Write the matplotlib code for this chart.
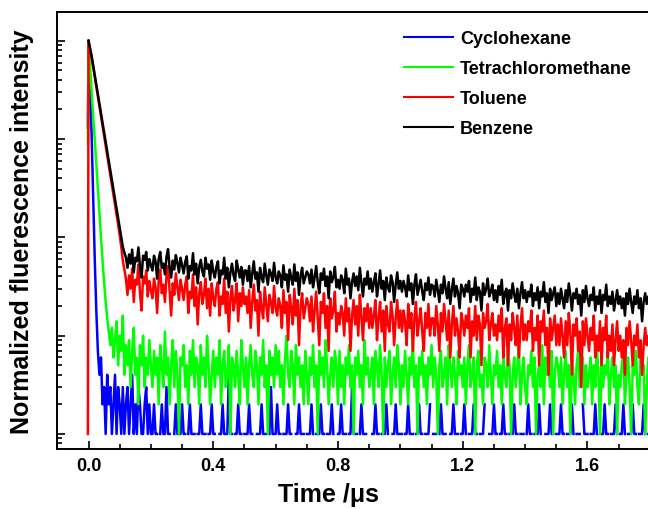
import numpy as np
import matplotlib
matplotlib.use("Agg")
import matplotlib.pyplot as plt
from matplotlib.ticker import MultipleLocator, LogLocator, NullFormatter

plt.rcParams['font.family'] = ['Liberation Sans', 'DejaVu Sans']
plt.rcParams['font.weight'] = 'bold'

# time grid of the decay curves (us): one sample every 5 ns from t = 0, plus a pre-trigger sample
t_pre = -0.002
t_step = 0.005
n_samples = 361
peak_counts = 10000.0

labels = ["Cyclohexane", "Tetrachloromethane", "Toluene", "Benzene"]
colors = ["#0000ff", "#00ff00", "#ff0000", "#000000"]

# counts (peak = 10000); 0 counts are not drawn on the log axis
pre_counts = [1300, 900, 1, None]

cyclohexane = [
    # 0.000 - 0.120
    10000, 3300, 1100, 260, 60, 18, 7, 4, 6, 2, 3, 1, 4, 2, 3, 1, 2, 4, 1, 3, 2, 1, 3, 1, 2,
    # 0.125 - 0.200
    3, 1, 2, 4, 1, 2, 1, 3, 2, 1, 1, 2, 3, 1, 2, 1,
    # 0.205 - 1.800, 20 samples per row
    1, 2, 1, 1, 0, 1, 2, 1, 1, 3, 1, 1, 0, 0, 1, 2, 1, 1, 1, 2,
    1, 1, 0, 1, 2, 1, 1, 1, 0, 1, 1, 2, 1, 1, 1, 0, 1, 1, 2, 1,
    1, 0, 0, 1, 1, 2, 1, 1, 1, 4, 1, 1, 0, 1, 1, 2, 1, 1, 0, 1,
    1, 1, 2, 1, 1, 0, 0, 1, 1, 1, 2, 1, 1, 1, 0, 1, 3, 1, 1, 1,
    2, 1, 1, 0, 1, 1, 1, 2, 1, 1, 0, 0, 1, 1, 2, 1, 1, 1, 0, 1,
    1, 1, 2, 1, 0, 1, 1, 1, 2, 1, 1, 0, 1, 1, 1, 2, 1, 0, 0, 1,
    1, 2, 1, 1, 1, 0, 1, 1, 3, 1, 1, 1, 0, 1, 2, 1, 1, 1, 0, 1,
    0, 1, 1, 2, 1, 1, 0, 1, 1, 1, 2, 1, 0, 0, 1, 1, 2, 1, 1, 1,
    1, 0, 1, 1, 2, 1, 1, 1, 0, 1, 1, 2, 1, 1, 0, 1, 1, 1, 2, 0,
    1, 1, 1, 0, 1, 2, 1, 1, 1, 0, 0, 1, 1, 2, 1, 1, 1, 0, 1, 1,
    2, 1, 0, 1, 1, 1, 2, 1, 1, 0, 1, 1, 1, 2, 0, 0, 1, 1, 1, 2,
    1, 1, 0, 1, 1, 2, 1, 1, 0, 1, 1, 1, 2, 1, 1, 0, 1, 1, 1, 0,
    1, 2, 1, 1, 0, 1, 1, 1, 2, 1, 0, 0, 1, 1, 1, 2, 1, 1, 0, 1,
    1, 1, 2, 1, 1, 0, 1, 1, 1, 2, 1, 0, 1, 1, 1, 0, 2, 1, 1, 1,
    0, 1, 1, 1, 2, 1, 0, 1, 1, 1, 2, 1, 1, 0, 1, 1, 1, 2, 1, 0,
    1, 1, 2, 1, 0, 1, 1, 1, 2, 1, 1, 0, 1, 1, 1, 2, 1, 0, 1, 1,
]

tetrachloromethane = [
    10000, 5500, 3000, 1700, 1000, 560, 320, 180, 100, 58, 35, 22, 15, 11, 8, 12, 6, 9, 14, 5, 10, 7, 16, 4, 8,
    5, 9, 3, 7, 12, 4, 6, 2, 8, 5, 10, 3, 6, 4, 9, 5,
    3, 7, 4, 6, 2, 8, 5, 3, 11, 4, 6, 2, 5, 9, 3, 7, 4, 1, 6, 5,
    8, 3, 5, 2, 7, 4, 9, 3, 6, 5, 2, 8, 4, 6, 3, 10, 5, 2, 4, 7,
    3, 6, 4, 9, 2, 5, 7, 3, 4, 8, 1, 6, 5, 3, 7, 4, 2, 9, 5, 3,
    6, 2, 5, 8, 4, 3, 7, 5, 2, 6, 4, 9, 3, 5, 1, 7, 4, 6, 3, 8,
    4, 7, 3, 5, 2, 6, 10, 4, 3, 7, 5, 2, 8, 4, 6, 3, 5, 2, 7, 4,
    2, 6, 4, 8, 3, 5, 1, 7, 4, 6, 3, 9, 5, 2, 4, 6, 3, 7, 5, 2,
    7, 3, 5, 2, 6, 4, 8, 3, 5, 1, 6, 4, 7, 3, 5, 2, 9, 4, 6, 3,
    4, 6, 2, 7, 5, 3, 8, 4, 1, 6, 3, 5, 7, 2, 4, 6, 3, 8, 5, 2,
    5, 3, 7, 4, 2, 6, 4, 9, 3, 5, 1, 6, 4, 7, 3, 5, 2, 6, 4, 8,
    3, 6, 4, 1, 5, 7, 3, 4, 6, 2, 8, 5, 3, 6, 4, 2, 7, 4, 5, 3,
    6, 2, 5, 8, 3, 4, 6, 1, 5, 7, 3, 4, 2, 6, 5, 3, 8, 4, 2, 5,
    4, 7, 3, 5, 2, 6, 4, 3, 7, 5, 1, 4, 6, 3, 5, 8, 2, 4, 6, 3,
    2, 5, 4, 7, 3, 6, 1, 4, 5, 3, 8, 2, 6, 4, 5, 3, 7, 1, 4, 6,
    5, 3, 6, 2, 4, 7, 3, 5, 1, 6, 4, 2, 5, 7, 3, 4, 6, 2, 5, 3,
    4, 6, 2, 5, 3, 8, 4, 1, 6, 3, 5, 4, 7, 2, 4, 6, 3, 5, 1, 4,
    3, 5, 7, 2, 4, 6, 3, 1, 5, 4, 7, 3, 2, 6, 4, 5, 1, 3, 6, 4,
]

toluene = [
    10000, 8200, 6800, 5400, 4300, 3400, 2700, 2150, 1700, 1350, 1080, 860, 680, 540, 430, 340, 270, 215, 170, 135, 105, 80, 58, 47, 38,
    26, 41, 30, 48, 22, 37, 33, 53, 27, 18, 40, 34, 46, 25, 36, 29,
    24, 38, 31, 17, 36, 47, 27, 33, 22, 40, 51, 29, 16, 34, 26, 43, 31, 23, 37, 30,
    23, 33, 40, 17, 28, 24, 42, 20, 31, 13, 27, 35, 21, 26, 38, 19, 30, 16, 34, 24,
    20, 30, 35, 16, 25, 21, 38, 17, 28, 11, 24, 32, 18, 23, 34, 14, 27, 20, 31, 21,
    25, 17, 29, 12, 22, 33, 18, 23, 10, 28, 19, 15, 31, 21, 14, 26, 22, 17, 32, 19,
    16, 24, 20, 12, 29, 17, 22, 9, 26, 19, 13, 30, 16, 23, 8, 20, 27, 15, 19, 24,
    21, 14, 25, 11, 18, 28, 15, 8, 22, 17, 27, 12, 20, 7, 24, 15, 18, 28, 11, 17,
    13, 20, 17, 10, 24, 14, 19, 7, 16, 23, 13, 20, 10, 26, 16, 9, 19, 14, 21, 12,
    19, 12, 16, 23, 9, 15, 22, 11, 18, 7, 20, 13, 11, 22, 16, 8, 15, 23, 12, 18,
    11, 18, 14, 8, 21, 12, 17, 7, 15, 22, 10, 14, 19, 11, 7, 17, 12, 21, 10, 15,
    15, 10, 20, 13, 7, 17, 11, 21, 14, 9, 18, 6, 13, 20, 10, 15, 11, 6, 17, 14,
    10, 16, 12, 19, 6, 14, 10, 20, 9, 16, 13, 5, 17, 12, 14, 21, 9, 13, 17, 10,
    13, 9, 16, 11, 19, 6, 12, 15, 5, 13, 9, 17, 12, 8, 16, 6, 12, 19, 9, 13,
    9, 14, 11, 18, 7, 12, 9, 16, 5, 14, 11, 18, 8, 12, 4, 15, 9, 12, 16, 8,
    13, 8, 15, 10, 6, 14, 8, 17, 11, 4, 13, 10, 15, 7, 11, 3, 14, 8, 15, 10,
    7, 12, 9, 16, 6, 10, 7, 14, 5, 12, 9, 16, 6, 10, 7, 13, 5, 9, 14, 7,
    10, 6, 9, 4, 12, 8, 14, 9, 5, 10, 8, 13, 6, 9, 4, 8, 12, 8, 10, 6,
]

benzene = [
    10000, 8400, 7000, 5600, 4490, 3600, 2880, 2300, 1840, 1470, 1180, 950, 760, 610, 485, 390, 310, 250, 200, 160, 128, 100, 80, 70, 62,
    49, 67, 54, 75, 44, 62, 57, 79, 51, 39, 65, 59, 71, 46, 60, 52,
    46, 65, 57, 38, 60, 71, 49, 54, 42, 63, 76, 50, 39, 58, 47, 66, 55, 44, 62, 52,
    43, 56, 64, 38, 51, 46, 69, 42, 54, 34, 50, 59, 45, 40, 62, 48, 53, 37, 58, 45,
    39, 50, 57, 34, 46, 42, 62, 38, 49, 31, 44, 54, 41, 36, 58, 47, 39, 50, 33, 46,
    46, 36, 51, 31, 43, 57, 38, 44, 28, 49, 39, 35, 54, 41, 33, 47, 43, 36, 55, 39,
    34, 45, 41, 31, 52, 37, 42, 28, 47, 39, 33, 53, 36, 44, 26, 41, 49, 34, 39, 45,
    42, 34, 47, 31, 39, 51, 35, 27, 43, 37, 48, 32, 40, 24, 45, 35, 39, 50, 31, 37,
    30, 41, 37, 27, 48, 33, 38, 24, 35, 43, 32, 40, 29, 49, 35, 25, 38, 33, 45, 30,
    38, 28, 35, 43, 25, 33, 46, 30, 36, 23, 39, 31, 28, 41, 35, 22, 33, 44, 30, 36,
    28, 36, 31, 25, 41, 29, 34, 21, 33, 42, 26, 31, 37, 28, 23, 34, 29, 39, 26, 33,
    32, 25, 37, 29, 22, 33, 27, 40, 30, 24, 35, 21, 29, 38, 25, 32, 27, 19, 33, 30,
    25, 33, 28, 36, 22, 30, 26, 39, 23, 31, 28, 18, 34, 26, 30, 38, 25, 28, 33, 23,
    29, 22, 32, 26, 37, 21, 27, 30, 18, 29, 24, 34, 26, 22, 30, 19, 27, 35, 24, 29,
    22, 28, 25, 33, 20, 27, 23, 31, 19, 28, 25, 35, 22, 27, 17, 30, 23, 27, 31, 20,
    27, 21, 30, 24, 19, 29, 22, 34, 26, 18, 27, 24, 30, 21, 26, 16, 29, 22, 32, 24,
    20, 26, 23, 31, 18, 25, 21, 29, 17, 26, 23, 33, 20, 25, 21, 28, 18, 23, 29, 21,
    25, 19, 24, 16, 27, 21, 30, 22, 17, 25, 21, 29, 19, 24, 14, 22, 27, 21, 25, 19,
]

series = [cyclohexane, tetrachloromethane, toluene, benzene]

fig = plt.figure(figsize=(6.48, 5.10), dpi=100)
# the original picture is cropped on the right, so the axes run to the edge
ax = fig.add_axes([56.7 / 648, 1 - 450 / 510, 1 - 56.7 / 648, (450 - 12.7) / 510])

t = np.arange(n_samples) * t_step
for counts, pre, lab, col in zip(series, pre_counts, labels, colors):
    y = np.array(counts, dtype=float)
    x = t[:len(y)]
    if pre is not None:
        x = np.concatenate([[t_pre], x])
        y = np.concatenate([[pre], y])
    y = np.where(y > 0, y / peak_counts, np.nan)
    ax.plot(x, y, color=col, lw=1.8, label=lab)

ax.set_yscale('log')
ax.set_xlim(-0.102, 1.794)
ax.set_ylim(10 ** (-4.153), 10 ** 0.295)

ax.xaxis.set_major_locator(MultipleLocator(0.4))
ax.xaxis.set_minor_locator(MultipleLocator(0.1))
ax.yaxis.set_major_locator(LogLocator(base=10, numticks=10))
ax.yaxis.set_minor_locator(LogLocator(base=10, subs=np.arange(2, 10), numticks=20))
ax.yaxis.set_major_formatter(NullFormatter())
ax.yaxis.set_minor_formatter(NullFormatter())

ax.tick_params(axis='both', which='both', direction='in', width=1.2)
ax.tick_params(axis='both', which='major', length=6)
ax.tick_params(axis='both', which='minor', length=3.5)
ax.tick_params(axis='x', which='major', labelsize=13, pad=6)
ax.tick_params(top=False, right=False, which='both')

for lbl in ax.get_xticklabels():
    lbl.set_fontweight('bold')

for side in ['left', 'bottom', 'top']:
    ax.spines[side].set_linewidth(1.4)
ax.spines['right'].set_visible(False)

ax.set_xlabel("Time /\u03bcs", fontsize=18, fontweight='bold', va='center')
ax.xaxis.set_label_coords((328 - 56.7) / 591.3, (450 - 495) / 437.3)
ax.set_ylabel("Normalized fluerescence intensity", fontsize=18, fontweight='bold', va='center')
ax.yaxis.set_label_coords((22 - 56.7) / 591.3, (450 - 232) / 437.3)

leg = ax.legend(loc='upper left', bbox_to_anchor=(404 / 648, 1 - 31 / 510),
                bbox_transform=fig.transFigure, frameon=False, borderpad=0,
                borderaxespad=0, handlelength=2.7, handletextpad=0.4,
                labelspacing=0.72, prop={'size': 13, 'weight': 'bold'})
for line in leg.get_lines():
    line.set_linewidth(1.5)

fig.savefig("out.png", dpi=100)
